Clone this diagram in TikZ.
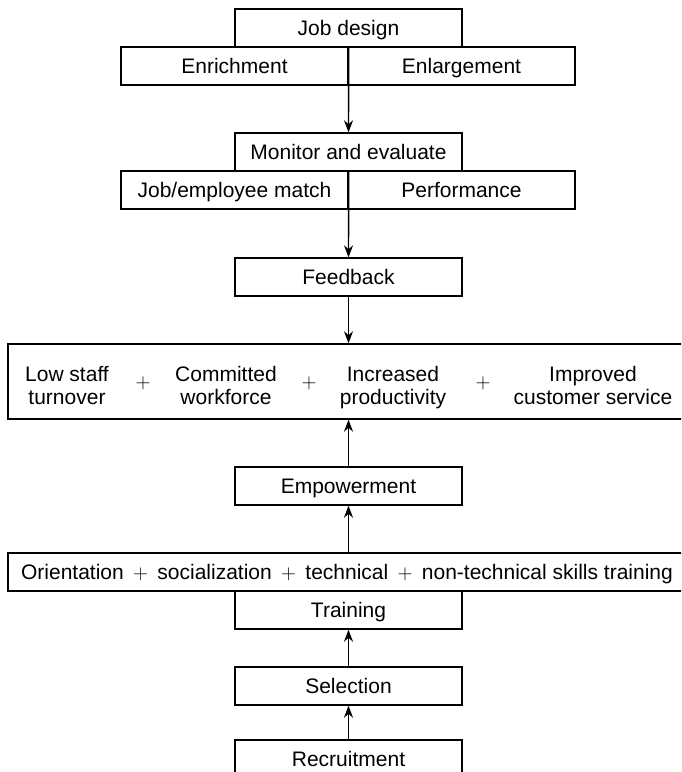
\documentclass[tikz,border=0pt]{standalone}
\usepackage{fontspec}
\setmainfont{Liberation Sans}
\usetikzlibrary{arrows.meta}
\newcommand{\lnstrut}{\vrule width 0pt height 16pt depth 7pt}
\begin{document}
\begin{tikzpicture}[x=1pt,y=-1pt,
  txt/.style={inner sep=0pt, font=\fontsize{21}{23}\selectfont, align=center},
  box/.style={txt, draw, line width=1.4pt, minimum height=38pt, text height=17pt, text depth=3pt},
  sbox/.style={box, minimum width=227pt},
  wbox/.style={box, minimum width=682pt},
  arr/.style={line width=1.4pt, -{Stealth[length=12pt,width=9pt]}}]
\useasboundingbox (0,0) rectangle (681,772);
\clip (0,0) rectangle (681,772);
% top part
\node[sbox] (job) at (348.5,28) {Job design};
\node[sbox] (enrich) at (234.5,66) {Enrichment};
\node[sbox] (enlarge) at (461.5,66) {Enlargement};
\node[sbox] (monitor) at (348.5,152) {Monitor and evaluate};
\node[sbox] (match) at (234.5,190) {Job/employee match};
\node[sbox] (perf) at (461.5,190) {Performance};
\node[sbox] (feedback) at (348.5,277) {Feedback};
% outcomes
\node[draw, line width=1.4pt, minimum width=682pt, minimum height=75pt, inner sep=0pt] (outcomes) at (349,381.5) {};
\node[txt] (o1) at (67,388) {\lnstrut Low staff\\\lnstrut turnover};
\node[txt] (p1) at (143,383) {$+$};
\node[txt] (o2) at (226,388) {\lnstrut Committed\\\lnstrut workforce};
\node[txt] (p2) at (309,383) {$+$};
\node[txt] (o3) at (393,388) {\lnstrut Increased\\\lnstrut productivity};
\node[txt] (p3) at (483,383) {$+$};
\node[txt] (o4) at (593,388) {\lnstrut Improved\\\lnstrut customer service};
% bottom part
\node[sbox] (empower) at (348.5,486) {Empowerment};
\node[wbox] (orient) at (349,572) {};
\node[txt, text height=17pt, text depth=3pt] (orienttext) at (347,572) {Orientation \,$+$\, socialization \,$+$\, technical \,$+$\, non-technical skills training};
\node[sbox] (training) at (348.5,610) {Training};
\node[sbox] (selection) at (348.5,686) {Selection};
\node[sbox] (recruit) at (348.5,759) {Recruitment};
% connectors
\draw[arr] (enrich.north east) -- (monitor.north);
\draw[arr] (match.north east) -- (feedback.north);
\draw[arr] (feedback.south) -- (feedback.south |- outcomes.north);
\draw[arr] (empower.north) -- (empower.north |- outcomes.south);
\draw[arr] (empower.south |- orient.north) -- (empower.south);
\draw[arr] (selection.north) -- (training.south);
\draw[arr] (recruit.north) -- (selection.south);
\end{tikzpicture}
\end{document}
